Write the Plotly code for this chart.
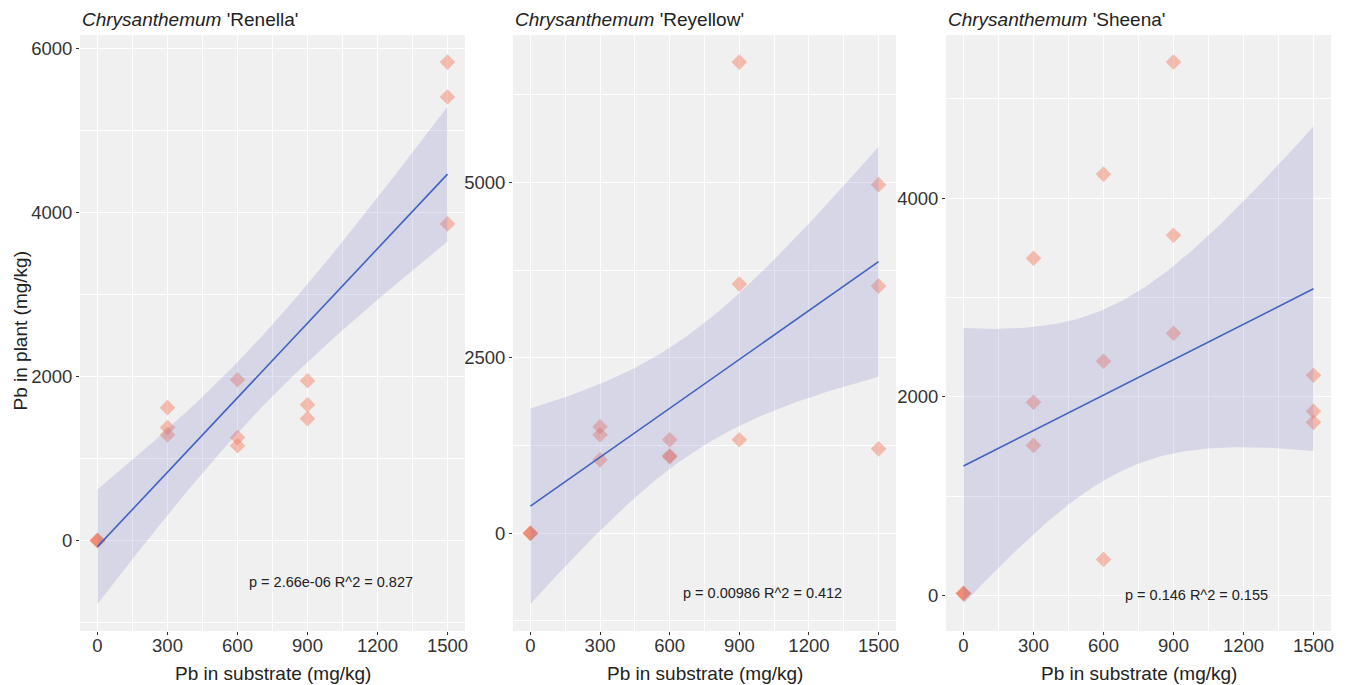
import numpy as np
import plotly.graph_objects as go

# ---------------- data ----------------
substrate = [0, 0, 0, 300, 300, 300, 600, 600, 600, 900, 900, 900, 1500, 1500, 1500]

renella = [0, 0, 0, 1619, 1376, 1290, 1960, 1254, 1156, 1947, 1655, 1485, 5831, 5405, 3859]
reyellow = [0, 0, 0, 1519, 1404, 1046, 1332, 1103, 1089, 6719, 3553, 1332, 4971, 3524, 1203]
sheena = [20, 20, 20, 3395, 1945, 1511, 4242, 2358, 363, 5370, 3627, 2640, 2217, 1854, 1743]

cultivars = ["'Renella'", "'Reyellow'", "'Sheena'"]
stats_labels = ["p = 2.66e-06 R^2 = 0.827", "p = 0.00986 R^2 = 0.412", "p = 0.146 R^2 = 0.155"]
label_y = [-500, -850, 0]
label_x = [1000, 1000, 1000]
y_dtick = [2000, 2500, 2000]
x_ticks = [0, 300, 600, 900, 1200, 1500]

# ---------------- styling ----------------
FONT = "Liberation Sans, Arial, sans-serif"
BG = "#F0F0F0"
PT_COLOR = "rgba(244,120,88,0.45)"
LINE_COLOR = "#4162BF"
RIBBON = "rgba(125,125,200,0.22)"
T_975_DF13 = 2.160369

x_domains = [(80 / 1348, 465 / 1348), (513 / 1348, 896 / 1348), (946 / 1348, 1331 / 1348)]
y_domain = (1 - 631 / 685, 1 - 35 / 685)

fig = go.Figure()
series = [renella, reyellow, sheena]


def lm_fit(x, y):
    x = np.asarray(x, float)
    y = np.asarray(y, float)
    n = len(x)
    xm = x.mean()
    sxx = ((x - xm) ** 2).sum()
    b = ((x - xm) * (y - y.mean())).sum() / sxx
    a = y.mean() - b * xm
    resid = y - (a + b * x)
    s = np.sqrt((resid ** 2).sum() / (n - 2))
    xg = np.linspace(x.min(), x.max(), 80)
    fit = a + b * xg
    se = s * np.sqrt(1 / n + (xg - xm) ** 2 / sxx)
    return xg, fit, fit - T_975_DF13 * se, fit + T_975_DF13 * se


annotations = []
layout_axes = {}
for i, ys in enumerate(series):
    k = "" if i == 0 else str(i + 1)
    xa, ya = "x" + k, "y" + k
    xg, fit, lo, hi = lm_fit(substrate, ys)

    fig.add_trace(go.Scatter(
        x=substrate, y=ys, mode="markers", xaxis=xa, yaxis=ya,
        marker=dict(symbol="diamond", size=12, color=PT_COLOR, line=dict(width=0)),
        showlegend=False, hoverinfo="x+y"))
    fig.add_trace(go.Scatter(
        x=np.concatenate([xg, xg[::-1]]), y=np.concatenate([hi, lo[::-1]]),
        mode="lines", fill="toself", fillcolor=RIBBON, line=dict(width=0),
        xaxis=xa, yaxis=ya, showlegend=False, hoverinfo="skip"))
    fig.add_trace(go.Scatter(
        x=xg, y=fit, mode="lines", line=dict(color=LINE_COLOR, width=1.6),
        xaxis=xa, yaxis=ya, showlegend=False))

    ymin = min(min(ys), lo.min())
    ymax = max(max(ys), hi.max())
    span = ymax - ymin
    yr = [ymin - 0.05 * span, ymax + 0.05 * span]
    xr = [-75, 1575]

    layout_axes["xaxis" + k] = dict(
        domain=x_domains[i], anchor=ya, range=xr, tickvals=x_ticks,
        ticks="outside", ticklen=3, tickwidth=1, tickcolor="#333333",
        tickfont=dict(size=18.5, color="#333333", family=FONT),
        ticklabelstandoff=-5,
        showgrid=True, gridcolor="white", gridwidth=1.2, zeroline=False,
        showline=False, automargin=False,
        minor=dict(tick0=150, dtick=300, showgrid=True, gridcolor="white", gridwidth=0.8))
    layout_axes["yaxis" + k] = dict(
        domain=y_domain, anchor=xa, range=yr, tick0=0, dtick=y_dtick[i],
        ticks="outside", ticklen=3, tickwidth=1, tickcolor="#333333",
        tickfont=dict(size=18.5, color="#333333", family=FONT),
        showgrid=True, gridcolor="white", gridwidth=1.2, zeroline=False,
        showline=False, automargin=False,
        minor=dict(tick0=y_dtick[i] / 2, dtick=y_dtick[i], showgrid=True,
                   gridcolor="white", gridwidth=0.8))

    # panel title
    annotations.append(dict(
        x=x_domains[i][0], y=1 - 20 / 685, xref="paper", yref="paper",
        xanchor="left", yanchor="middle", showarrow=False,
        text="<i>Chrysanthemum</i> " + cultivars[i],
        font=dict(size=19, color="#222222", family=FONT)))
    # x-axis title
    annotations.append(dict(
        x=(x_domains[i][0] + x_domains[i][1]) / 2, y=1 - 673 / 685,
        xref="paper", yref="paper", xanchor="center", yanchor="middle",
        showarrow=False, text="Pb in substrate (mg/kg)",
        font=dict(size=19, color="#222222", family=FONT)))
    # stats label
    annotations.append(dict(
        x=label_x[i], y=label_y[i], xref=xa, yref=ya, xanchor="center",
        yanchor="middle", showarrow=False, text=stats_labels[i],
        font=dict(size=14.5, color="#222222", family=FONT)))

annotations.append(dict(
    x=20 / 1348, y=1 - 331.5 / 685, xref="paper", yref="paper",
    xanchor="center", yanchor="middle", showarrow=False, textangle=-90,
    text="Pb in plant (mg/kg)", font=dict(size=19, color="#222222", family=FONT)))

fig.update_layout(
    width=1348, height=685, margin=dict(l=0, r=0, t=0, b=0),
    paper_bgcolor="white", plot_bgcolor=BG, showlegend=False,
    font=dict(family=FONT), annotations=annotations, **layout_axes)

fig.write_html("out.html")
